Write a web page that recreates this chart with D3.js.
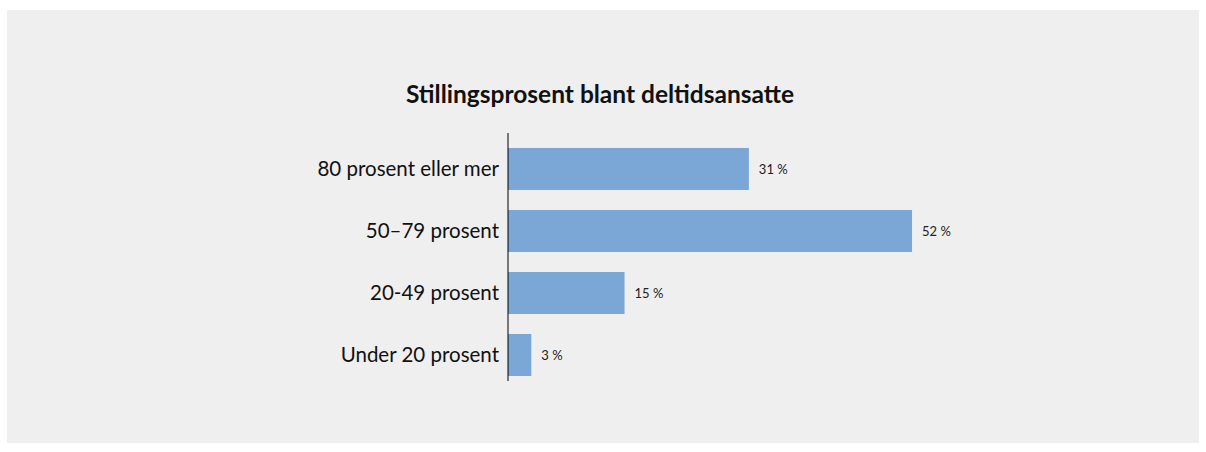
<!DOCTYPE html>
<html>
<head>
<meta charset="utf-8">
<script src="https://cdn.jsdelivr.net/npm/d3@7"></script>
<style>
  body { margin: 0; background: #fff; }
  svg { display: block; }
</style>
</head>
<body>
<svg></svg>
<script>
(function () {
  var width = 1206, height = 452;

  var title = "Stillingsprosent blant deltidsansatte";
  var categories = ["80 prosent eller mer", "50\u201379 prosent", "20-49 prosent", "Under 20 prosent"];
  var values = [31, 52, 15, 3];

  var svg = d3.select("svg")
        .attr("width", width)
        .attr("height", height)
        .style("font-family", "Lato, 'Open Sans', sans-serif");

  // grey panel
  svg.append("rect")
    .attr("x", 7).attr("y", 10)
    .attr("width", 1192).attr("height", 433)
    .attr("fill", "#efefef");

  svg.append("text")
    .attr("x", 600)
    .attr("y", 103)
    .attr("text-anchor", "middle")
    .attr("font-size", 24.5)
    .attr("font-weight", "bold")
    .attr("fill", "#111")
    .text(title);

  var x0 = 508;
  var x = d3.scaleLinear()
        .domain([0, 10])
        .range([x0, x0 + 77.7]);

  var y = d3.scaleBand()
        .domain(categories)
        .range([133, 381])
        .paddingInner(0.3226)
        .paddingOuter(0.161)
        .align(0.75);

  var g = svg.append("g");

  g.selectAll(".bar")
    .data(values)
    .enter().append("rect")
    .attr("class", "bar")
    .attr("x", x(0))
    .attr("y", function(d, i) { return y(categories[i]); })
    .attr("width", function(d) { return x(d) - x(0); })
    .attr("height", y.bandwidth())
    .attr("fill", "#7ba7d6");

  g.selectAll(".val")
    .data(values)
    .enter().append("text")
    .attr("class", "val")
    .attr("x", function(d) { return x(d) + 10; })
    .attr("y", function(d, i) { return y(categories[i]) + y.bandwidth() / 2; })
    .attr("dy", "0.35em")
    .attr("font-size", 13)
    .attr("fill", "#222")
    .text(function(d) { return d + " %"; });

  // y axis, labels only plus the line
  var axis = g.append("g")
    .attr("transform", "translate(" + x0 + ",0)")
    .call(d3.axisLeft(y).tickSize(0).tickPadding(9));
  axis.select(".domain").remove();
  axis.selectAll("text")
    .attr("font-size", 20.5)
    .attr("font-family", "Lato, 'Open Sans', sans-serif")
    .attr("fill", "#111");

  g.append("line")
    .attr("x1", x0).attr("x2", x0)
    .attr("y1", y.range()[0]).attr("y2", y.range()[1])
    .attr("stroke", "#000")
    .attr("stroke-width", 1);
})();
</script>
</body>
</html>
